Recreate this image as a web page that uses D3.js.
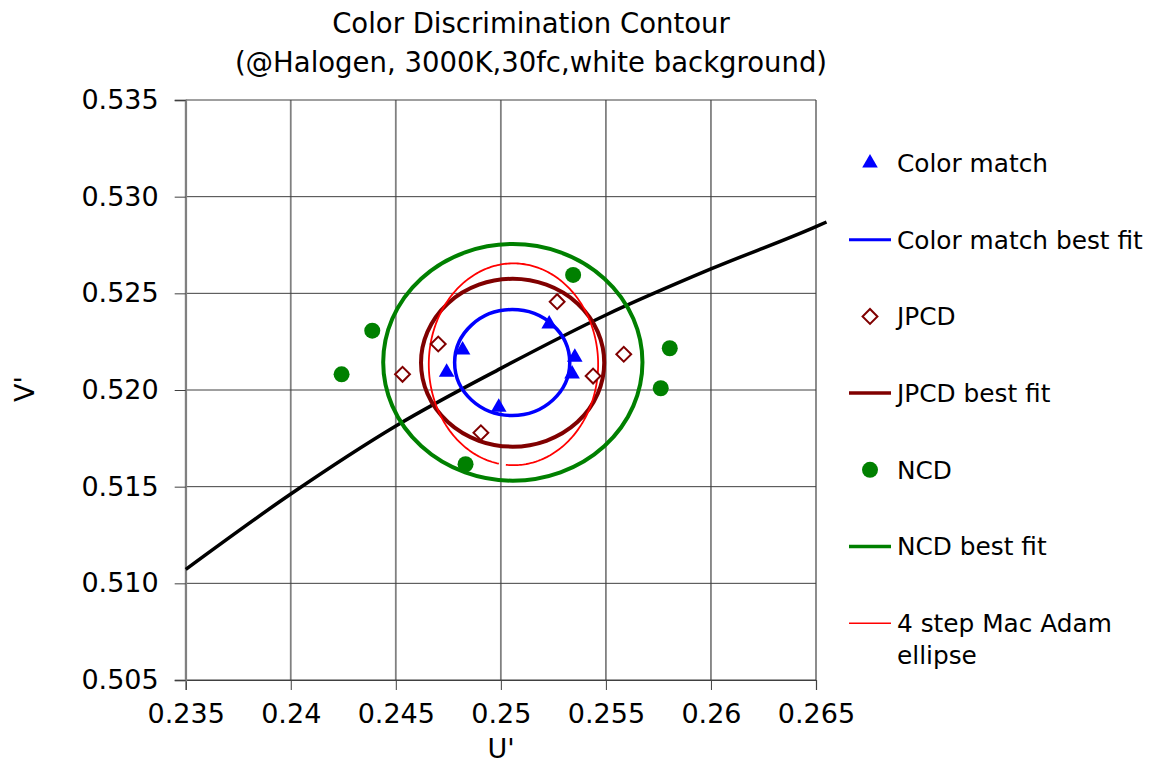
<!DOCTYPE html>
<html>
<head>
<meta charset="utf-8">
<script src="https://cdn.jsdelivr.net/npm/d3@7"></script>
<style>
  body { margin: 0; background: #fff; }
  text { font-family: "DejaVu Sans", Verdana, sans-serif; fill: #000; }
</style>
</head>
<body>
<div id="chart"></div>
<script>
// data
const xTicks = [0.235, 0.24, 0.245, 0.25, 0.255, 0.26, 0.265];
const yTicks = [0.505, 0.510, 0.515, 0.520, 0.525, 0.530, 0.535];

const colorMatch = [
    [0.24818, 0.52207], [0.24742, 0.52092], [0.24990, 0.51911],
    [0.25230, 0.52341], [0.25352, 0.52169], [0.25339, 0.52083]
];
const jpcd = [
    [0.25268, 0.52457], [0.24702, 0.52238], [0.24532, 0.52081],
    [0.25585, 0.52185], [0.25439, 0.52072], [0.24905, 0.51779]
];
const ncd = [
    [0.25344, 0.52595], [0.24388, 0.52307], [0.24242, 0.52081],
    [0.25804, 0.52216], [0.25761, 0.52009], [0.24832, 0.51616]
];

// best fit contours: [centre u, centre v, radius u, radius v]
const colorMatchFit = [0.25054, 0.52142, 0.00274, 0.00274];
const jpcdFit = [0.25056, 0.52141, 0.00436, 0.00434];
const ncdFit = [0.25057, 0.52143, 0.00617, 0.00612];
const macAdam = [0.25060, 0.52133, 0.00403, 0.00522];

// black locus line
const locusU = [0.235, 0.24, 0.245, 0.25, 0.255, 0.26, 0.265, 0.2655];
const locusV = [0.51072, 0.51462, 0.51814, 0.52112, 0.52388, 0.52626, 0.52845, 0.52869];

const legendItems = [
    { label: ["Color match"], type: "triangle", color: "#0000ff" },
    { label: ["Color match best fit"], type: "line", color: "#0000ff", width: 3 },
    { label: ["JPCD"], type: "diamond", color: "#800000" },
    { label: ["JPCD best fit"], type: "line", color: "#800000", width: 3.5 },
    { label: ["NCD"], type: "circle", color: "#008000" },
    { label: ["NCD best fit"], type: "line", color: "#008000", width: 3.5 },
    { label: ["4 step Mac Adam", "ellipse"], type: "line", color: "#ff0000", width: 1.5 }
];

const width = 1152, height = 765;
const plot = { left: 185.7, right: 816, top: 100, bottom: 680 };

const svg = d3.select("#chart").append("svg")
    .attr("width", width)
    .attr("height", height);

const x = d3.scaleLinear().domain([0.235, 0.265]).range([plot.left, plot.right]);
const y = d3.scaleLinear().domain([0.505, 0.535]).range([plot.bottom, plot.top]);

const fmt = d => String(+d.toFixed(3));

// Title
svg.append("text")
    .attr("x", 531).attr("y", 33)
    .attr("text-anchor", "middle")
    .style("font-size", "27.5px")
    .text("Color Discrimination Contour");
svg.append("text")
    .attr("x", 531).attr("y", 72)
    .attr("text-anchor", "middle")
    .style("font-size", "27.5px")
    .text("(@Halogen, 3000K,30fc,white background)");

// Grid
svg.append("g").selectAll("line")
    .data(xTicks)
    .join("line")
    .attr("x1", d => x(d)).attr("x2", d => x(d))
    .attr("y1", plot.top).attr("y2", plot.bottom)
    .attr("stroke", "#808080")
    .attr("stroke-width", 1.8);

svg.append("g").selectAll("line")
    .data(yTicks)
    .join("line")
    .attr("x1", plot.left).attr("x2", plot.right)
    .attr("y1", d => y(d)).attr("y2", d => y(d))
    .attr("stroke", "#404040")
    .attr("stroke-width", 1);

// Axes
const xAxis = svg.append("g")
    .attr("transform", `translate(0,${plot.bottom})`)
    .call(d3.axisBottom(x).tickValues(xTicks).tickFormat(fmt).tickSize(10).tickPadding(14));
const yAxis = svg.append("g")
    .attr("transform", `translate(${plot.left},0)`)
    .call(d3.axisLeft(y).tickValues(yTicks).tickFormat(d => d.toFixed(3)).tickSize(11).tickPadding(16));

xAxis.select(".domain").attr("stroke", "#404040").attr("stroke-width", 1.2);
yAxis.select(".domain").attr("stroke", "#808080").attr("stroke-width", 1.8);
xAxis.selectAll(".tick line").attr("stroke", "#404040");
yAxis.selectAll(".tick line").attr("stroke", "#404040");
xAxis.selectAll("text").style("font-size", "27px").style("font-family", "DejaVu Sans");
yAxis.selectAll("text").style("font-size", "27px").style("font-family", "DejaVu Sans");

// Axis titles
svg.append("text")
    .attr("x", 501).attr("y", 758)
    .attr("text-anchor", "middle")
    .style("font-size", "27px")
    .text("U'");
svg.append("text")
    .attr("transform", "translate(34,389) rotate(-90)")
    .attr("text-anchor", "middle")
    .style("font-size", "27px")
    .text("V'");

// Locus line
const locus = locusU.map((u, i) => [u, locusV[i]]);
svg.append("path")
    .datum(locus)
    .attr("fill", "none")
    .attr("stroke", "#000")
    .attr("stroke-width", 3.5)
    .attr("d", d3.line().x(d => x(d[0])).y(d => y(d[1])).curve(d3.curveMonotoneX));

// Fit contours
function drawFit(p, color, w) {
    svg.append("ellipse")
        .attr("cx", x(p[0]))
        .attr("cy", y(p[1]))
        .attr("rx", x(p[0] + p[2]) - x(p[0]))
        .attr("ry", y(p[1]) - y(p[1] + p[3]))
        .attr("fill", "none")
        .attr("stroke", color)
        .attr("stroke-width", w);
}
drawFit(ncdFit, "#008000", 4);
drawFit(jpcdFit, "#800000", 4);

// Mac Adam ellipse, left open at the bottom like the original
{
    const cx = x(macAdam[0]), cy = y(macAdam[1]);
    const rx = x(macAdam[0] + macAdam[2]) - cx;
    const ry = cy - y(macAdam[1] + macAdam[3]);
    const angles = d3.range(-0.09, 2 * Math.PI - 0.16, 0.02);
    svg.append("path")
        .datum(angles)
        .attr("fill", "none")
        .attr("stroke", "#ff0000")
        .attr("stroke-width", 1.8)
        .attr("d", d3.line().x(t => cx + rx * Math.sin(t)).y(t => cy + ry * Math.cos(t)));
}
drawFit(colorMatchFit, "#0000ff", 3.5);

// Markers
const tri = d3.symbol().type(d3.symbolTriangle).size(105);
const dia = d3.symbol().type(d3.symbolSquare).size(110);

svg.append("g").selectAll("path")
    .data(colorMatch)
    .join("path")
    .attr("transform", d => `translate(${x(d[0])},${y(d[1])})`)
    .attr("d", tri)
    .attr("fill", "#0000ff");

svg.append("g").selectAll("path")
    .data(jpcd)
    .join("path")
    .attr("transform", d => `translate(${x(d[0])},${y(d[1])}) rotate(45)`)
    .attr("d", dia)
    .attr("fill", "#fff")
    .attr("stroke", "#800000")
    .attr("stroke-width", 2);

svg.append("g").selectAll("circle")
    .data(ncd)
    .join("circle")
    .attr("cx", d => x(d[0]))
    .attr("cy", d => y(d[1]))
    .attr("r", 8)
    .attr("fill", "#008000");

// Legend
const legend = svg.append("g");
legendItems.forEach((item, i) => {
    const ly = 163 + i * 76.7;
    const g = legend.append("g").attr("transform", `translate(0,${ly})`);
    if (item.type === "line") {
        g.append("line")
            .attr("x1", 849).attr("x2", 891)
            .attr("stroke", item.color)
            .attr("stroke-width", item.width);
    } else if (item.type === "triangle") {
        g.append("path").attr("transform", "translate(870,0)").attr("d", tri).attr("fill", item.color);
    } else if (item.type === "diamond") {
        g.append("path").attr("transform", "translate(870,0) rotate(45)").attr("d", dia)
            .attr("fill", "#fff").attr("stroke", item.color).attr("stroke-width", 2);
    } else {
        g.append("circle").attr("cx", 870).attr("r", 8).attr("fill", item.color);
    }
    item.label.forEach((t, j) => {
        g.append("text")
            .attr("x", 897)
            .attr("y", j * 32)
            .attr("dy", "0.36em")
            .style("font-size", "24.8px")
            .text(t);
    });
});
</script>
</body>
</html>
